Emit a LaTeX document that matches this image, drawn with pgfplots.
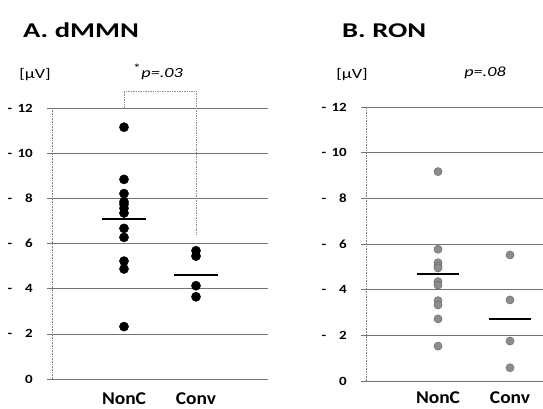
\documentclass[border=0pt]{standalone}
\usepackage{pgfplots}
\pgfplotsset{compat=1.18}
\usepackage{fontspec}
\setmainfont{Carlito}
\usepackage{graphicx}
\newcommand\sx[2]{\scalebox{#1}[1]{#2}}
\newcommand\tl[1]{\sx{1.2}{\makebox[21pt][l]{-}\llap{#1}}}
\newcommand\tz{\sx{1.2}{\makebox[21pt][r]{0}}}
\pgfplotsset{
 myax/.style={scale only axis, axis lines*=left, xmin=0, ymin=0, ymax=12,
  ytick={0,2,...,12}, yticklabels={\tz,\tl{2},\tl{4},\tl{6},\tl{8},\tl{10},\tl{12}},
  ymajorgrids, grid style={black!55, line width=0.6pt},
  axis line style={black!55, line width=0.6pt},
  y axis line style={densely dotted, black!50, line width=0.8pt},
  tick align=outside, major tick length=5pt,
  ytick style={black!55, line width=0.6pt},
  xtick={1,2}, xticklabels={\sx{1.08}{NonC},\sx{1.08}{Conv}},
  xtick style={draw=none},
  yticklabel style={font=\fontsize{12.5}{12.5}\selectfont\bfseries, inner sep=0pt, anchor=east, xshift=-14pt},
  clip=false}
}
\begin{document}
\begin{tikzpicture}
\useasboundingbox (0pt,0pt) rectangle (543pt,409pt);
% Panel A
\begin{axis}[myax, at={(52pt,30pt)}, anchor=south west, width=216pt, height=271pt, xmax=3,
  xticklabel style={font=\fontsize{18}{18}\selectfont\bfseries, inner sep=0pt, anchor=north, yshift=-8pt}]
\addplot[only marks, mark=*, mark size=4.6pt, black] coordinates {
(1,11.15) (1,8.84) (1,8.21) (1,7.85) (1,7.74) (1,7.56) (1,7.35) (1,6.67) (1,6.27) (1,5.22) (1,4.87) (1,2.32)};
\addplot[only marks, mark=*, mark size=4.6pt, black] coordinates {
(2,5.68) (2,5.44) (2,4.13) (2,3.64)};
\addplot[black, line width=2pt] coordinates {(0.69,7.07) (1.31,7.07)};
\addplot[black, line width=2pt] coordinates {(1.69,4.62) (2.31,4.62)};
\draw[black!45, densely dotted, line width=0.7pt] (axis cs:1,12) -- (axis cs:1,12.74) -- (axis cs:2,12.74) -- (axis cs:2,6.4);
\end{axis}
% Panel B
\begin{axis}[myax, at={(366pt,28pt)}, anchor=south west, width=177pt, height=274pt, xmax=2.458,
  xticklabel style={font=\fontsize{18}{18}\selectfont\bfseries, inner sep=0pt, anchor=north, yshift=-5.5pt}]
\addplot[only marks, mark=*, mark size=4.1pt, draw=black!60, fill=gray!90] coordinates {
(1,9.17) (1,5.77) (1,5.18) (1,5.04) (1,4.95) (1,4.35) (1,4.2) (1,3.52) (1,3.33) (1,2.72) (1,1.53)};
\addplot[only marks, mark=*, mark size=4.1pt, draw=black!60, fill=gray!90] coordinates {
(2,5.52) (2,3.55) (2,1.75) (2,0.58)};
\addplot[black, line width=2pt] coordinates {(0.71,4.67) (1.29,4.67)};
\addplot[black, line width=2pt] coordinates {(1.71,2.72) (2.29,2.72)};
\end{axis}
% Titles and labels
\node[anchor=west, inner sep=0pt] at (23pt,379pt) {\fontsize{21}{21}\selectfont\bfseries\sx{1.36}{A. dMMN}};
\node[anchor=west, inner sep=0pt] at (342pt,378pt) {\fontsize{21}{21}\selectfont\bfseries\sx{1.36}{B. RON}};
\node[inner sep=0pt] at (35pt,334pt) {\fontsize{14}{14}\selectfont\sx{1.3}{[μV]}};
\node[inner sep=0pt] at (352pt,334pt) {\fontsize{14}{14}\selectfont\sx{1.3}{[μV]}};
\node[inner sep=0pt] at (158pt,337pt) {\fontsize{14}{14}\selectfont\sx{1.3}{\textsuperscript{\large *}\textit{p=.03}}};
\node[inner sep=0pt] at (485pt,336pt) {\fontsize{14}{14}\selectfont\sx{1.3}{\textit{p=.08}}};
\end{tikzpicture}
\end{document}
